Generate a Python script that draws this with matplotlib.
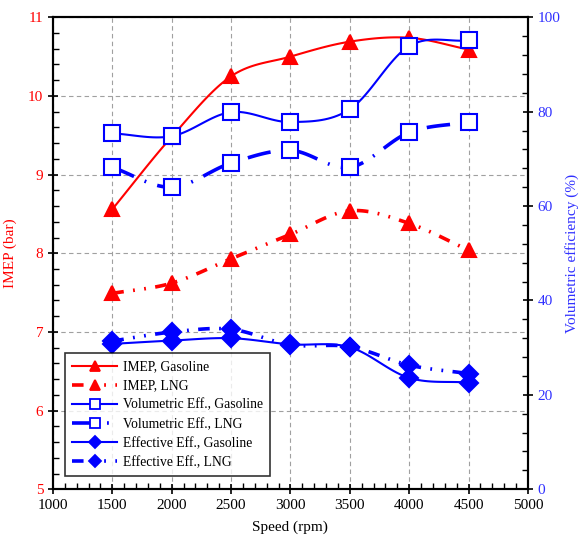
"""IMEP and volumetric / effective efficiency vs engine speed, gasoline vs LNG."""
import matplotlib
matplotlib.use("Agg")
import matplotlib.pyplot as plt
import numpy as np
from matplotlib.ticker import MultipleLocator

plt.rcParams["font.family"] = ["Liberation Serif", "DejaVu Serif"]

speed = [1500, 2000, 2500, 3000, 3500, 4000, 4500]
imep_gas = [8.56, 9.48, 10.25, 10.50, 10.69, 10.74, 10.59]
imep_lng = [7.49, 7.62, 7.93, 8.24, 8.54, 8.38, 8.04]
vol_gas = [75.4, 74.8, 79.9, 77.8, 80.5, 93.9, 95.1]
vol_lng = [68.2, 64.0, 69.1, 71.8, 68.2, 75.6, 77.8]
eff_gas = [30.8, 31.5, 32.0, 30.7, 30.1, 23.6, 22.6]
eff_lng = [31.4, 33.3, 33.9, 30.6, 30.2, 26.3, 24.5]

RED = "#ff0000"
BLUE = "#0000ff"
DASH2DOT = (0, (3.2, 2.6, 0.5, 2.6, 0.5, 2.6))
DASHDOT = (0, (6.5, 3.2, 0.5, 3.2))


def smooth(x, y, n=20):
    # Catmull-Rom curve through the measured points (drawing only)
    x = np.asarray(x, float)
    y = np.asarray(y, float)
    px = np.concatenate([[2 * x[0] - x[1]], x, [2 * x[-1] - x[-2]]])
    py = np.concatenate([[2 * y[0] - y[1]], y, [2 * y[-1] - y[-2]]])
    t = np.linspace(0, 1, n)[:, None]
    xs, ys = [], []
    for i in range(1, len(px) - 2):
        for p, out in ((px, xs), (py, ys)):
            p0, p1, p2, p3 = p[i - 1], p[i], p[i + 1], p[i + 2]
            seg = 0.5 * (2 * p1 + (-p0 + p2) * t + (2 * p0 - 5 * p1 + 4 * p2 - p3) * t ** 2
                         + (-p0 + 3 * p1 - 3 * p2 + p3) * t ** 3)
            out.append(seg.ravel())
    return np.concatenate(xs), np.concatenate(ys)


def series(ax, x, y, color, ls, lw, marker, ms, mfc, label):
    sx, sy = smooth(x, y)
    ax.plot(sx, sy, color=color, ls=ls, lw=lw)
    ax.plot(x, y, ls="none", marker=marker, ms=ms, color=color, mfc=mfc, mew=1.5)
    # proxy for legend
    return ax.plot([], [], color=color, ls=ls, lw=lw, marker=marker, ms=ms * 0.7,
                   mfc=mfc, mew=1.3, label=label)[0]


fig = plt.figure(figsize=(5.82, 5.40), dpi=100)
ax = fig.add_axes([0.091, 0.094, 0.816, 0.874])
ax2 = ax.twinx()

h = []
h.append(series(ax, speed, imep_gas, RED, "-", 1.5, "^", 10, RED, "IMEP, Gasoline"))
h.append(series(ax, speed, imep_lng, RED, DASH2DOT, 2.6, "^", 10, RED, "IMEP, LNG"))
h.append(series(ax2, speed, vol_gas, BLUE, "-", 1.5, "s", 11, "white", "Volumetric Eff., Gasoline"))
h.append(series(ax2, speed, vol_lng, BLUE, DASHDOT, 2.6, "s", 11, "white", "Volumetric Eff., LNG"))
h.append(series(ax2, speed, eff_gas, BLUE, "-", 1.5, "D", 9, BLUE, "Effective Eff., Gasoline"))
h.append(series(ax2, speed, eff_lng, BLUE, DASH2DOT, 2.6, "D", 9, BLUE, "Effective Eff., LNG"))

ax.set_xlim(1000, 5000)
ax.set_ylim(5, 11)
ax2.set_ylim(0, 100)
ax.xaxis.set_major_locator(MultipleLocator(500))
ax.xaxis.set_minor_locator(MultipleLocator(100))
ax.yaxis.set_major_locator(MultipleLocator(1))
ax.yaxis.set_minor_locator(MultipleLocator(0.2))
ax2.yaxis.set_major_locator(MultipleLocator(20))
ax2.yaxis.set_minor_locator(MultipleLocator(4))

ax.grid(True, which="major", ls=(0, (4, 3)), color="#a0a0a0", lw=0.8)
ax.set_axisbelow(True)

for a in (ax, ax2):
    for s in a.spines.values():
        s.set_linewidth(1.5)
ax.tick_params(axis="both", which="major", direction="inout", length=7, width=1.2, labelsize=11)
ax.tick_params(axis="both", which="minor", direction="in", length=4, width=1)
ax.tick_params(axis="x", top=False, which="both")
ax.tick_params(axis="y", labelcolor=RED)
ax2.tick_params(axis="y", which="major", direction="inout", length=7, width=1.2,
                labelsize=11, labelcolor="#3030ff")
ax2.tick_params(axis="y", which="minor", direction="in", length=4, width=1)

ax.set_xlabel("Speed (rpm)", fontsize=11, labelpad=6)
ax.set_ylabel("IMEP (bar)", fontsize=11, color=RED, labelpad=8)
ax2.set_ylabel("Volumetric efficiency (%)", fontsize=11, color="#3030ff", labelpad=3)

leg = ax2.legend(handles=h, loc="lower left", bbox_to_anchor=(0.025, 0.027),
                 borderaxespad=0, fontsize=9.8, frameon=True, fancybox=False,
                 handlelength=3.3, borderpad=0.55, labelspacing=0.45, handletextpad=0.4)
leg.get_frame().set_edgecolor("black")
leg.get_frame().set_linewidth(1.2)

fig.savefig("out.png", dpi=100)
